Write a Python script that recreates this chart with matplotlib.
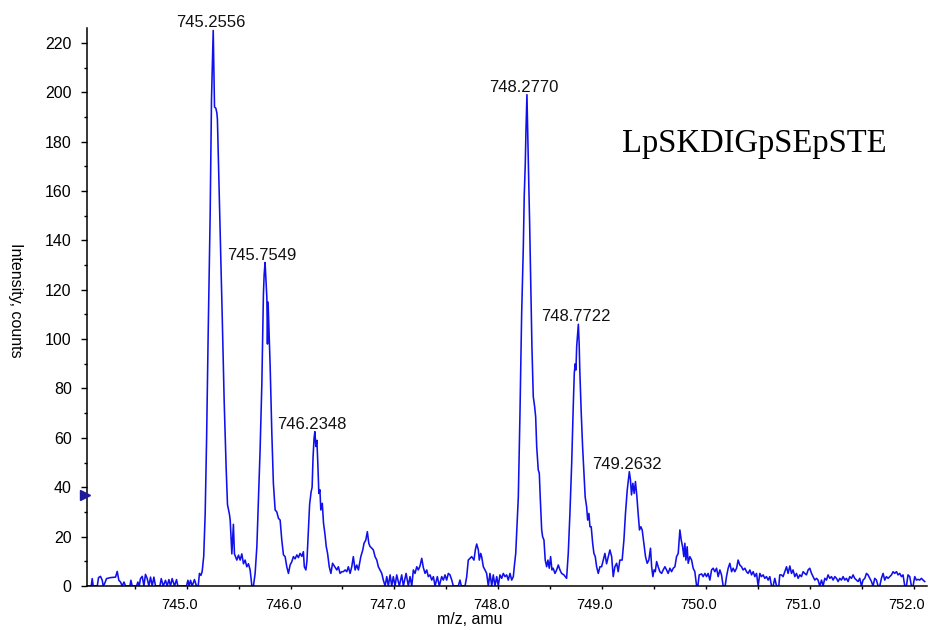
import numpy as np
import matplotlib.pyplot as plt
from matplotlib.ticker import MultipleLocator, FormatStrFormatter
from matplotlib.transforms import ScaledTranslation

# raw profile spectrum: (m/z, intensity in counts)
profile = [
    (744.042, 0), (744.081, 0), (744.090, 3.0), (744.100, 0), (744.139, 0),
    (744.151, 3.4), (744.170, 3.9), (744.187, 2.3), (744.196, 0), (744.209, 0.9),
    (744.228, 3.0), (744.267, 3.4), (744.315, 3.6), (744.331, 5.9), (744.347, 2.3),
    (744.363, 1.6), (744.379, 0), (744.396, 1.6), (744.411, 0), (744.453, 0),
    (744.463, 2.3), (744.475, 0), (744.517, 0), (744.530, 1.6), (744.543, 0),
    (744.555, 3.0), (744.572, 3.9), (744.588, 0), (744.603, 4.7), (744.620, 3.0),
    (744.636, 0), (744.652, 3.6), (744.668, 0), (744.684, 3.6), (744.700, 0),
    (744.742, 0), (744.755, 3.0), (744.774, 0), (744.796, 2.3), (744.812, 0),
    (744.829, 2.6), (744.844, 0), (744.860, 3.0), (744.883, 0), (744.902, 2.6),
    (744.915, 0), (744.998, 0), (745.012, 2.3), (745.024, 0), (745.037, 2.3),
    (745.053, 0), (745.075, 2.6), (745.094, 0), (745.111, 0), (745.123, 5.1),
    (745.137, 4.3), (745.149, 5.8), (745.164, 12), (745.178, 29), (745.192, 60),
    (745.207, 102), (745.226, 150), (745.239, 197), (745.2556, 225), (745.268, 194),
    (745.281, 193.5), (745.291, 191.5), (745.296, 189), (745.320, 148), (745.343, 108),
    (745.361, 75), (745.380, 48), (745.393, 33), (745.412, 29), (745.419, 26.7),
    (745.435, 13), (745.450, 25), (745.460, 13), (745.483, 10.5), (745.499, 12.5),
    (745.515, 10.5), (745.531, 13), (745.547, 9), (745.563, 10.5), (745.579, 7.8),
    (745.595, 9), (745.611, 6.5), (745.628, 0), (745.643, 0), (745.659, 5),
    (745.676, 16), (745.691, 35), (745.707, 55), (745.724, 82), (745.739, 118),
    (745.746, 126), (745.7549, 131), (745.772, 117), (745.778, 98), (745.784, 115),
    (745.804, 89), (745.820, 62), (745.835, 41.6), (745.852, 30.8), (745.868, 30),
    (745.884, 27.4), (745.900, 26.7), (745.916, 18.6), (745.932, 12.6), (745.948, 11.9),
    (745.964, 7.8), (745.980, 5.1), (745.996, 8.5), (746.013, 9.9), (746.028, 11.9),
    (746.044, 11), (746.061, 12.6), (746.076, 11.5), (746.092, 13.2), (746.109, 12),
    (746.124, 13.9), (746.133, 7.8), (746.148, 6.5), (746.158, 10), (746.169, 20),
    (746.184, 33), (746.198, 38), (746.208, 40), (746.217, 52), (746.227, 60),
    (746.2348, 62.5), (746.244, 56.5), (746.254, 59), (746.263, 49.7), (746.273, 37.5),
    (746.283, 39), (746.292, 30.8), (746.306, 33.5), (746.318, 25.4), (746.331, 21.3),
    (746.344, 16), (746.357, 13.2), (746.373, 7.8), (746.389, 5.1), (746.405, 9.2),
    (746.446, 6.5), (746.461, 7.8), (746.477, 5.1), (746.494, 5.8), (746.509, 5.8),
    (746.526, 6.5), (746.542, 5.8), (746.557, 7.8), (746.574, 5.1), (746.590, 7.8),
    (746.605, 11.9), (746.622, 6.5), (746.638, 8.5), (746.654, 6.5), (746.677, 11.9),
    (746.696, 14.6), (746.708, 17.3), (746.725, 18.6), (746.740, 22), (746.754, 17.3),
    (746.766, 16), (746.783, 15.3), (746.798, 14.6), (746.814, 11.9), (746.831, 10.5),
    (746.846, 7.8), (746.862, 6.5), (746.879, 5.1), (746.894, 2.4), (746.911, 0),
    (746.927, 3.8), (746.942, 0), (746.959, 4.5), (746.975, 0), (746.990, 3.8),
    (747.007, 0), (747.023, 4.5), (747.048, 0), (747.071, 4.5), (747.087, 0),
    (747.113, 5.1), (747.135, 0), (747.151, 3.8), (747.168, 0), (747.183, 6.5),
    (747.199, 5.1), (747.216, 7.8), (747.231, 6.5), (747.247, 8.1), (747.264, 11.2),
    (747.279, 7.5), (747.296, 5.1), (747.312, 6.5), (747.327, 3.8), (747.344, 4.5),
    (747.360, 2.4), (747.376, 3.8), (747.392, 0), (747.414, 3.8), (747.433, 0),
    (747.456, 3.8), (747.472, 2.4), (747.488, 4.5), (747.504, 2.4), (747.520, 5.1),
    (747.536, 4.5), (747.553, 2.4), (747.568, 0), (747.616, 0), (747.632, 2.4),
    (747.645, 0), (747.681, 0), (747.697, 3.8), (747.712, 10.5), (747.729, 11.2),
    (747.745, 11.9), (747.767, 10.5), (747.780, 14.6), (747.793, 17), (747.809, 14.6),
    (747.818, 10.5), (747.832, 13.2), (747.841, 11.9), (747.857, 7.8), (747.873, 6.5),
    (747.889, 5.1), (747.905, 0), (747.921, 5.1), (747.938, 0), (747.953, 4.5),
    (747.969, 0), (747.986, 3.8), (748.001, 0), (748.017, 4.5), (748.034, 3.1),
    (748.049, 5.1), (748.066, 3.8), (748.082, 4.5), (748.097, 2.4), (748.114, 5.1),
    (748.130, 2.4), (748.146, 3.8), (748.155, 7.8), (748.169, 13.2), (748.194, 36),
    (748.210, 70), (748.226, 110), (748.242, 137), (748.251, 158), (748.261, 171),
    (748.268, 185), (748.2770, 199), (748.287, 178), (748.294, 164.5), (748.303, 147),
    (748.313, 124), (748.325, 97), (748.338, 76.7), (748.351, 72.7), (748.361, 68.6),
    (748.371, 56.5), (748.386, 47), (748.396, 45.7), (748.405, 36), (748.419, 22.7),
    (748.428, 20), (748.441, 18.6), (748.453, 10.5), (748.467, 7.8), (748.479, 10.5),
    (748.492, 7.2), (748.505, 11.9), (748.518, 6.5), (748.530, 7.2), (748.547, 5.1),
    (748.563, 6.5), (748.579, 8.5), (748.595, 6.5), (748.611, 5.1), (748.633, 4.5),
    (748.659, 3.1), (748.675, 13.2), (748.691, 29.4), (748.708, 49.7), (748.723, 72.7),
    (748.733, 86.2), (748.742, 90), (748.749, 87.5), (748.756, 97), (748.7722, 106),
    (748.780, 98), (748.787, 86.2), (748.800, 70), (748.813, 56.5), (748.826, 45.7),
    (748.838, 36), (748.852, 32), (748.862, 26.7), (748.874, 29.4), (748.884, 24),
    (748.896, 24), (748.910, 17.3), (748.922, 13.2), (748.935, 11.9), (748.948, 7.8),
    (748.964, 5.1), (748.980, 7.8), (748.996, 7.8), (749.028, 13.2), (749.044, 9),
    (749.076, 14.6), (749.093, 11.9), (749.108, 3.8), (749.124, 7.8), (749.141, 9.2),
    (749.156, 5.8), (749.172, 10.5), (749.194, 10.5), (749.211, 18.6), (749.226, 29.4),
    (749.243, 38.9), (749.2632, 46.3), (749.274, 43), (749.284, 36.9), (749.297, 41.6),
    (749.310, 37.5), (749.322, 42.3), (749.336, 36.2), (749.348, 29.4), (749.361, 22.7),
    (749.374, 24), (749.387, 22.7), (749.403, 17.3), (749.419, 11.9), (749.435, 9.2),
    (749.451, 10.5), (749.467, 15.3), (749.478, 7.8), (749.490, 3.8), (749.501, 6.5),
    (749.513, 5.8), (749.526, 9.9), (749.541, 7.8), (749.557, 5.8), (749.574, 5.1),
    (749.589, 6.5), (749.606, 7.8), (749.622, 6.5), (749.637, 5.1), (749.654, 7.2),
    (749.670, 5.8), (749.686, 7.2), (749.702, 7.8), (749.718, 11.9), (749.734, 13.2),
    (749.750, 22.7), (749.763, 18.6), (749.776, 15.9), (749.788, 11.9), (749.798, 17.3),
    (749.808, 10.5), (749.820, 15.9), (749.830, 9.2), (749.846, 11.9), (749.863, 10.5),
    (749.878, 7.2), (749.894, 5.8), (749.911, 0), (749.923, 0), (749.936, 4.5),
    (749.959, 4.9), (749.974, 3.8), (749.991, 5.1), (750.007, 3.8), (750.022, 5.1),
    (750.039, 2.4), (750.055, 6.5), (750.070, 7.2), (750.087, 5.8), (750.103, 7.2),
    (750.119, 3.8), (750.135, 6.5), (750.151, 4.5), (750.167, 0), (750.186, 0),
    (750.199, 3.8), (750.215, 7.2), (750.231, 9.2), (750.248, 5.8), (750.263, 7.2),
    (750.279, 5.8), (750.296, 7.2), (750.311, 10.5), (750.327, 8.5), (750.344, 7.8),
    (750.359, 6.5), (750.376, 7.2), (750.392, 5.8), (750.407, 5.1), (750.424, 6.5),
    (750.440, 4.5), (750.456, 5.8), (750.472, 3.8), (750.488, 5.1), (750.504, 0),
    (750.520, 5.1), (750.536, 3.8), (750.552, 4.5), (750.568, 3.1), (750.584, 3.8),
    (750.600, 2.4), (750.616, 3.8), (750.633, 0), (750.648, 0), (750.664, 3.1),
    (750.681, 0), (750.703, 0), (750.712, 4.5), (750.729, 4.5), (750.744, 3.8),
    (750.761, 5.8), (750.777, 7.8), (750.792, 5.1), (750.809, 8.1), (750.825, 5.1),
    (750.840, 6.5), (750.857, 3.8), (750.873, 5.1), (750.889, 3.1), (750.905, 4.5),
    (750.921, 3.8), (750.937, 5.8), (750.953, 5.1), (750.969, 4.5), (750.985, 6.5),
    (751.001, 7.2), (751.018, 5.1), (751.033, 3.8), (751.049, 2.4), (751.066, 3.1),
    (751.081, 2.4), (751.097, 0), (751.114, 2.4), (751.129, 0), (751.146, 3.1),
    (751.162, 2.4), (751.177, 4.5), (751.194, 3.1), (751.210, 3.8), (751.226, 2.4),
    (751.242, 3.8), (751.258, 3.1), (751.274, 1.8), (751.290, 3.1), (751.306, 2.4),
    (751.322, 3.8), (751.338, 2.4), (751.354, 3.1), (751.370, 1.8), (751.386, 3.8),
    (751.403, 3.1), (751.418, 4.5), (751.434, 3.1), (751.451, 2.4), (751.466, 1.8),
    (751.482, 3.1), (751.499, 0), (751.514, 2.4), (751.531, 3.1), (751.547, 5.1),
    (751.562, 4.5), (751.579, 3.1), (751.595, 1.8), (751.610, 0), (751.627, 3.1),
    (751.643, 2.4), (751.659, 0), (751.675, 0), (751.691, 3.1), (751.707, 5.1),
    (751.723, 2.4), (751.739, 3.8), (751.755, 3.1), (751.771, 3.8), (751.788, 4.5),
    (751.803, 5.8), (751.819, 5.1), (751.836, 5.8), (751.851, 4.5), (751.867, 5.1),
    (751.884, 3.8), (751.899, 4.5), (751.916, 0), (751.932, 0), (751.947, 4.5),
    (751.964, 3.8), (751.980, 0), (751.996, 0), (752.012, 3.8), (752.028, 2.4),
    (752.044, 2.7), (752.060, 2.4), (752.076, 3.1), (752.092, 2.4), (752.108, 1.8),
]

# centroided peaks that get a label
peak_mz = [745.2556, 745.7549, 746.2348, 748.2770, 748.7722, 749.2632]
peptide = "LpSKDIGpSEpSTE"
precursor_level = 37

mz, counts = np.array(profile).T

sans = "Liberation Sans"
fig = plt.figure(figsize=(9.32, 6.30), dpi=100)
ax = fig.add_axes([87 / 932, 44 / 630, 840 / 932, 558 / 630])

ax.plot(mz, counts, color="#1010ec", lw=1.15)

for p in peak_mz:
    h = np.interp(p, mz, counts)
    ax.annotate(f"{p:.4f}", (p, h), xytext=(-2, 0), textcoords="offset points",
                ha="center", va="bottom", fontsize=12, family=sans, color="#111111")

# precursor marker on the intensity axis
ax.plot([744.02], [precursor_level], marker=">", ms=7, color="#1c1c9c",
        clip_on=False, zorder=5)

ax.set_xlim(744.04, 752.13)
ax.set_ylim(0, 226)
for s in ("top", "right"):
    ax.spines[s].set_visible(False)
for s in ("left", "bottom"):
    ax.spines[s].set_linewidth(1.1)

ax.xaxis.set_major_locator(MultipleLocator(1))
ax.xaxis.set_minor_locator(MultipleLocator(0.5))
ax.xaxis.set_major_formatter(FormatStrFormatter("%.1f"))
ax.yaxis.set_major_locator(MultipleLocator(20))
ax.yaxis.set_minor_locator(MultipleLocator(10))
ax.tick_params(axis="x", which="both", length=2.5, width=1, pad=6,
               labelsize=10.5, direction="out")
ax.tick_params(axis="y", which="major", length=4, width=1, pad=7, labelsize=11.5)
ax.tick_params(axis="y", which="minor", length=2.5, width=1)
for lab in ax.get_xticklabels() + ax.get_yticklabels():
    lab.set_family(sans)
# x labels sit with the decimal point on the tick
shift = ScaledTranslation(-5 / 72, 0, fig.dpi_scale_trans)
for lab in ax.get_xticklabels():
    lab.set_transform(lab.get_transform() + shift)

fig.text(470 / 932, 10 / 630, "m/z, amu", ha="center", va="center",
         fontsize=11.5, family=sans)
fig.text(15 / 932, 330 / 630, "Intensity, counts", rotation=270,
         ha="center", va="center", fontsize=11.5, family=sans)
fig.text(622 / 932, 478 / 630, peptide, ha="left", va="baseline",
         fontsize=23.5, family="Liberation Serif")

fig.savefig("out.png", dpi=100)
